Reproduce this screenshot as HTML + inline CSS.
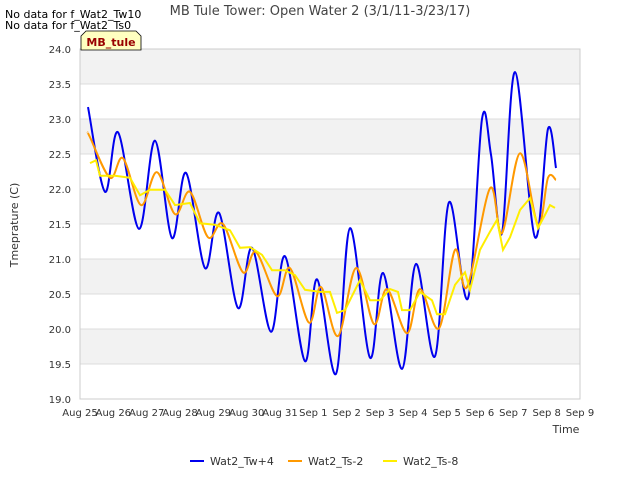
<!DOCTYPE html>
<html><head><meta charset="utf-8"><style>
body{margin:0;background:#fff;font-family:"Liberation Sans","DejaVu Sans",sans-serif}
svg text{font-family:"DejaVu Sans","Liberation Sans",sans-serif}
</style></head><body>
<svg id="c" width="640" height="480" xmlns="http://www.w3.org/2000/svg"></svg>
<script>
const xTickLabels=["Aug 25","Aug 26","Aug 27","Aug 28","Aug 29","Aug 30","Aug 31","Sep 1","Sep 2","Sep 3","Sep 4","Sep 5","Sep 6","Sep 7","Sep 8","Sep 9"];
const yTicks=[19.0,19.5,20.0,20.5,21.0,21.5,22.0,22.5,23.0,23.5,24.0];
const twDays=[0.24,0.75,1.14,1.77,2.25,2.76,3.18,3.75,4.17,4.74,5.16,5.73,6.15,6.75,7.11,7.68,8.10,8.70,9.09,9.66,10.08,10.65,11.07,11.64,12.06,12.33,12.66,13.05,13.65,14.04,14.28];
const twVals=[23.17,21.96,22.81,21.43,22.69,21.30,22.23,20.87,21.66,20.30,21.16,19.96,21.04,19.54,20.71,19.36,21.44,19.59,20.80,19.43,20.93,19.61,21.81,20.44,23.0,22.49,21.37,23.67,21.31,22.86,22.30];
const ts2Days=[0.24,0.3,0.9,1.29,1.83,2.31,2.85,3.3,3.84,4.29,4.89,5.28,5.91,6.3,6.87,7.23,7.74,8.28,8.82,9.21,9.81,10.2,10.77,11.25,11.61,12.3,12.66,13.2,13.74,14.04,14.28];
const ts2Vals=[22.80,22.74,22.16,22.44,21.77,22.24,21.64,21.96,21.31,21.5,20.81,21.1,20.47,20.87,20.09,20.6,19.9,20.87,20.07,20.57,19.94,20.57,20.01,21.13,20.6,22.01,21.37,22.51,21.49,22.16,22.13];
const ts8Days=[0.3,0.48,0.6,1.05,1.5,1.8,2.1,2.55,2.85,3.3,3.6,4.05,4.5,4.8,5.1,5.46,5.76,6.15,6.45,6.75,7.2,7.5,7.71,7.95,8.4,8.7,9.0,9.3,9.54,9.66,9.9,10.2,10.56,10.71,10.95,11.25,11.55,11.7,12.0,12.3,12.51,12.69,12.9,13.2,13.5,13.74,13.95,14.1,14.25];
const ts8Vals=[22.37,22.41,22.19,22.19,22.16,21.91,21.99,21.99,21.77,21.8,21.51,21.49,21.41,21.16,21.17,21.06,20.84,20.84,20.77,20.56,20.53,20.53,20.23,20.27,20.7,20.41,20.41,20.57,20.53,20.27,20.27,20.53,20.41,20.21,20.21,20.63,20.81,20.56,21.13,21.39,21.56,21.13,21.31,21.7,21.87,21.44,21.63,21.77,21.73];

const svg=document.getElementById('c');const NS="http://www.w3.org/2000/svg";
const L=80,R=580,T=49,B=399;
const xs=d=>L+d*(R-L)/15, ys=v=>B-(v-19)*(B-T)/5;
function mk(tag,attrs,parent){const e=document.createElementNS(NS,tag);for(const k in attrs)e.setAttribute(k,attrs[k]);(parent||svg).appendChild(e);return e;}
function txt(s,attrs){const e=mk('text',attrs);e.textContent=s;return e;}
let e;
e=mk('rect',{x:L,y:T,width:R-L,height:B-T,fill:'#fff',stroke:'#ccc'});


for(let i=0;i<yTicks.length-1;i+=2){
 if(i===0)continue;
}
for(let i=1;i<yTicks.length;i+=2){
 e=mk('rect',{x:L,y:ys(yTicks[i]+0.5),width:R-L,height:ys(yTicks[i])-ys(yTicks[i]+0.5),fill:'#f2f2f2'});
 
 
}
yTicks.forEach(v=>{
 e=mk('line',{x1:L,x2:R,y1:ys(v),y2:ys(v),stroke:'#dcdcdc'});
 
 
 e=txt(v.toFixed(1),{x:L-9,y:ys(v)+4,'text-anchor':'end','font-size':10,fill:'#333'});
 
 
});
xTickLabels.forEach((s,i)=>{
 e=txt(s,{x:xs(i),y:B+17,'text-anchor':'middle','font-size':10,fill:'#333'});
 
 
});
mk('rect',{x:L,y:T,width:R-L,height:B-T,fill:'none',stroke:'#ccc'});
function smooth(dx,dy){const p=dx.map((d,i)=>[xs(d),ys(dy[i])]);let s=`M${p[0][0]},${p[0][1]}`;
 for(let i=0;i<p.length-1;i++){const p0=p[i-1]||p[i],p1=p[i],p2=p[i+1],p3=p[i+2]||p2;
  s+=` C${p1[0]+(p2[0]-p0[0])/6},${p1[1]+(p2[1]-p0[1])/6} ${p2[0]-(p3[0]-p1[0])/6},${p2[1]-(p3[1]-p1[1])/6} ${p2[0]},${p2[1]}`;}return s;}
function lin(dx,dy){return dx.map((d,i)=>(i?'L':'M')+xs(d)+','+ys(dy[i])).join(' ');}
e=mk('path',{d:smooth(twDays,twVals),fill:'none',stroke:'#0000ee','stroke-width':2});


e=mk('path',{d:smooth(ts2Days,ts2Vals),fill:'none',stroke:'#ff9900','stroke-width':2});


e=mk('path',{d:lin(ts8Days,ts8Vals),fill:'none',stroke:'#ffee00','stroke-width':2});


e=txt('MB Tule Tower: Open Water 2 (3/1/11-3/23/17)',{x:320,y:15,'text-anchor':'middle','font-size':13,fill:'#444'});


e=txt('No data for f_Wat2_Tw10',{x:5,y:18,'font-size':11,fill:'#000'});


e=txt('No data for f_Wat2_Ts0',{x:5,y:29,'font-size':11,fill:'#000'});


e=mk('path',{d:'M81,50 L81,36 L86,31 L136,31 L141,36 L141,50 Z',fill:'#ffffc0',stroke:'#000','stroke-width':0.8});


e=txt('MB_tule',{x:111,y:46,'text-anchor':'middle','font-size':11,'font-weight':'bold',fill:'#990000'});


e=txt('Tmeprature (C)',{x:18,y:225,'text-anchor':'middle','font-size':11,fill:'#333',transform:'rotate(-90 18 225)'});


e=txt('Time',{x:566,y:433,'text-anchor':'middle','font-size':11,fill:'#333'});


[['Wat2_Tw+4','#0000ee',190],['Wat2_Ts-2','#ff9900',288],['Wat2_Ts-8','#ffee00',383]].forEach(([n,c,x])=>{
 const g=mk('g',{});
 
 
 mk('line',{x1:x,x2:x+14,y1:461,y2:461,stroke:c,'stroke-width':2},g);
 const t=mk('text',{x:x+20,y:465,'font-size':11,fill:'#333'},g);t.textContent=n;
});
</script>
</body></html>
